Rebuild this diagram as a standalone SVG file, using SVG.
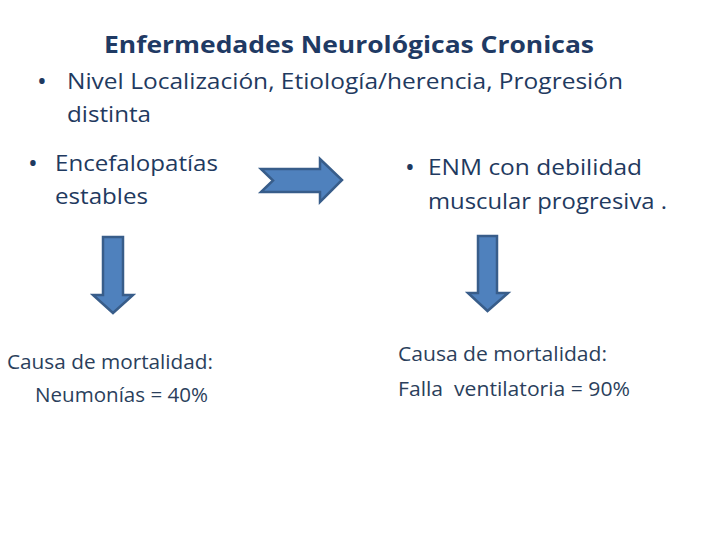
<svg xmlns="http://www.w3.org/2000/svg" width="720" height="540" viewBox="0 0 720 540">
<style>
.t{font-family:"Open Sans","Liberation Sans",sans-serif;fill:#1F3A60}
.title{font-size:24px;font-weight:bold;fill:#1F3A64}
.b{font-size:22px}
.bul{font-size:26px}
.c{font-size:20px;fill:#2B3F5C}
.arr{fill:#4F81BD;stroke:#385D8A;stroke-width:2.5;stroke-linejoin:miter}
</style>
<rect width="720" height="540" fill="#fff"/>
<g id="title">
<text class="t title" x="104" y="53" textLength="490" lengthAdjust="spacingAndGlyphs">Enfermedades Neurológicas Cronicas</text>
</g>
<g id="intro">
<text class="t bul" x="37" y="90">•</text>
<text class="t b" x="67" y="89" textLength="556" lengthAdjust="spacingAndGlyphs">Nivel Localización, Etiología/herencia, Progresión</text>
<text class="t b" x="67" y="122" textLength="84" lengthAdjust="spacingAndGlyphs">distinta</text>
</g>
<g id="encefalopatias">
<text class="t bul" x="28" y="172">•</text>
<text class="t b" x="55" y="171" textLength="163" lengthAdjust="spacingAndGlyphs">Encefalopatías</text>
<text class="t b" x="55" y="204" textLength="93" lengthAdjust="spacingAndGlyphs">estables</text>
</g>
<g id="enm">
<text class="t bul" x="405" y="176">•</text>
<text class="t b" x="428" y="175" textLength="214" lengthAdjust="spacingAndGlyphs">ENM con debilidad</text>
<text class="t b" x="428" y="209" textLength="239" lengthAdjust="spacingAndGlyphs">muscular progresiva .</text>
</g>
<g id="mortalidad-izq">
<text class="t c" x="7" y="369" textLength="206" lengthAdjust="spacingAndGlyphs">Causa de mortalidad:</text>
<text class="t c" x="35" y="402" textLength="173" lengthAdjust="spacingAndGlyphs">Neumonías = 40%</text>
</g>
<g id="mortalidad-der">
<text class="t c" x="398" y="361" textLength="209" lengthAdjust="spacingAndGlyphs">Causa de mortalidad:</text>
<text class="t c" x="398" y="396" xml:space="preserve" textLength="232" lengthAdjust="spacingAndGlyphs">Falla  ventilatoria = 90%</text>
</g>
<g id="connectors">
<path class="arr" d="M261,169 L320,169 L320,159 L342,180 L320,202 L320,192 L261,192 L273,180.5 Z"/>
<path class="arr" d="M103,237 L123,237 L123,295 L133,295 L113,313 L93,295 L103,295 Z"/>
<path class="arr" d="M478,236 L497,236 L497,293 L508,293 L487.5,311 L468,293 L478,293 Z"/>
</g>
</svg>
